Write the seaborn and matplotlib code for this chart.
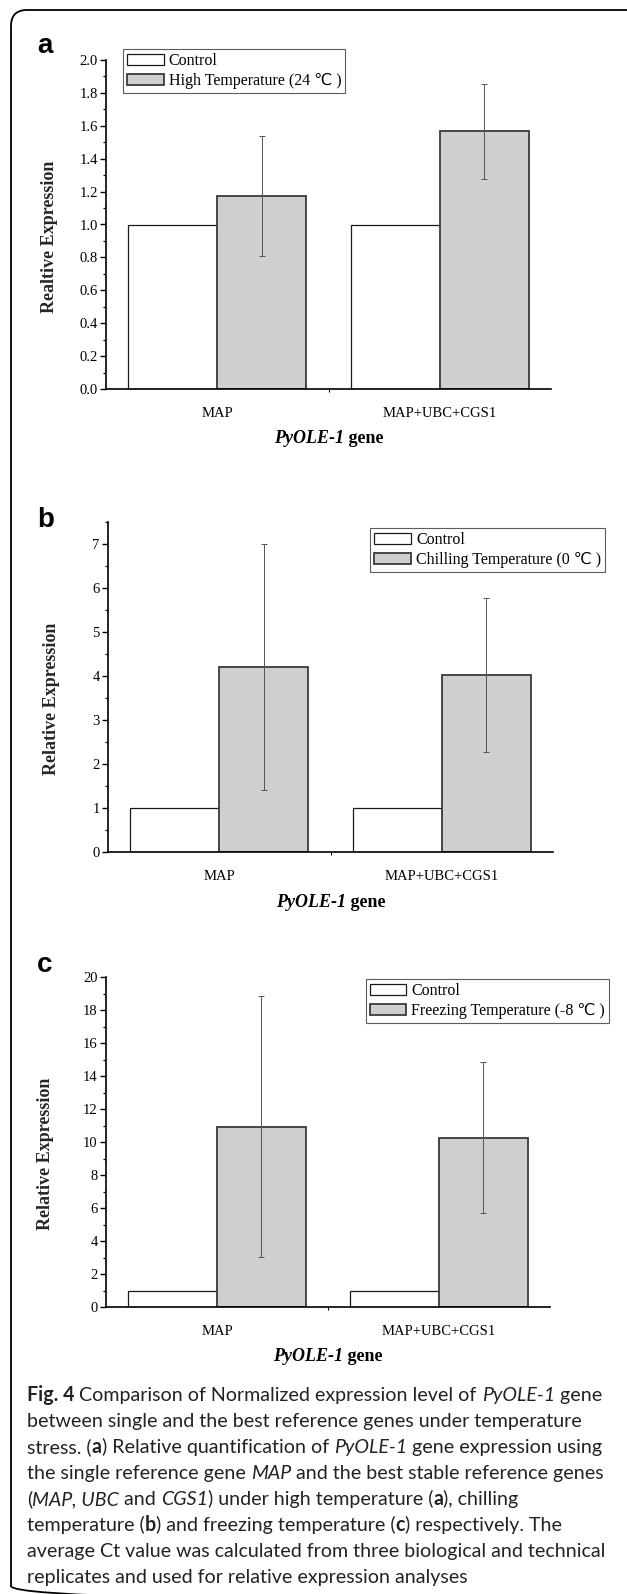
import matplotlib
matplotlib.use("Agg")
import matplotlib.pyplot as plt
import seaborn as sns
import pandas as pd
from matplotlib.patches import FancyBboxPatch
from matplotlib.ticker import MultipleLocator, FixedLocator, FormatStrFormatter

# data
genes = ["MAP", "MAP+UBC+CGS1"]
control = [1.0, 1.0]

high_temp = [1.174, 1.567]
high_temp_err = [0.364, 0.290]
chill_temp = [4.21, 4.03]
chill_temp_err = [2.80, 1.75]
freeze_temp = [10.92, 10.27]
freeze_temp_err = [7.90, 4.55]

treat_labels = ["High Temperature (24 ℃ )", "Chilling Temperature (0 ℃ )",
                "Freezing Temperature (-8 ℃ )"]
y_labels = ["Realtive Expression", "Relative Expression", "Relative Expression"]
panel_letters = ["a", "b", "c"]

W, H = 627, 1594
SERIF = ["Liberation Serif", "DejaVu Sans"]
SANS = ["Lato", "DejaVu Sans"]

sns.set_theme(style="ticks")
plt.rcParams["font.family"] = SERIF
plt.rcParams["axes.edgecolor"] = "black"
plt.rcParams["xtick.color"] = "black"
plt.rcParams["ytick.color"] = "black"
plt.rcParams["text.color"] = "black"

fig = plt.figure(figsize=(W / 100, H / 100), dpi=100)
fig.patch.set_facecolor("white")
renderer = fig.canvas.get_renderer()


def fbox(l, t, r, b):
    return [l / W, 1 - b / H, (r - l) / W, (b - t) / H]


def run_width(s, props):
    t1 = fig.text(0, 0, "X" + s + "X", **props)
    t2 = fig.text(0, 0, "XX", **props)
    w = t1.get_window_extent(renderer).width - t2.get_window_extent(renderer).width
    t1.remove()
    t2.remove()
    return w


def draw_runs(x_px, y_px, runs, align="left"):
    widths = [run_width(s, p) for s, p in runs]
    if align == "center":
        x_px -= sum(widths) / 2
    for (s, p), w in zip(runs, widths):
        fig.text(x_px / W, 1 - y_px / H, s, va="baseline", ha="left", **p)
        x_px += w


# frame around the whole figure
bg = fig.add_axes([0, 0, 1, 1], zorder=-5)
bg.set_xlim(0, W)
bg.set_ylim(H, 0)
bg.axis("off")
bg.add_patch(FancyBboxPatch((11, 10), 680, 1592, boxstyle="round,pad=0,rounding_size=16",
                            fill=False, lw=1.3, ec="black"))

panels = [
    dict(vals=high_temp, errs=high_temp_err, box=(106, 60, 551, 389), ylim=2.0,
         major=0.2, minor=0.1, fmt="%.1f", leg_loc="upper left", leg_xy=(123, 49),
         letter_y=53, xlabel_y=443, ylab_x=-0.108),
    dict(vals=chill_temp, errs=chill_temp_err, box=(108, 522, 553, 852), ylim=7.5,
         major=1, minor=0.5, fmt="%d", leg_loc="upper right", leg_xy=(605, 528),
         letter_y=527, xlabel_y=907, ylab_x=-0.108),
    dict(vals=freeze_temp, errs=freeze_temp_err, box=(106, 977, 550, 1307), ylim=20,
         major=2, minor=1, fmt="%d", leg_loc="upper right", leg_xy=(609, 979),
         letter_y=972, xlabel_y=1361, ylab_x=-0.117),
]

for i, p in enumerate(panels):
    ax = fig.add_axes(fbox(*p["box"]))
    df = pd.DataFrame({
        "gene": genes * 2,
        "group": ["Control"] * 2 + [treat_labels[i]] * 2,
        "value": control + p["vals"],
    })
    sns.barplot(data=df, x="gene", y="value", hue="group", palette=["white", "#cfcfcf"],
                width=0.8, errorbar=None, legend=False, saturation=1, ax=ax)
    for bar in ax.containers[0]:
        bar.set_edgecolor("#1a1a1a")
        bar.set_linewidth(0.9)
    for bar in ax.containers[1]:
        bar.set_edgecolor("#3a3a3a")
        bar.set_linewidth(1.3)
    xs = [b.get_x() + b.get_width() / 2 for b in ax.containers[1]]
    ax.errorbar(xs, p["vals"], yerr=p["errs"], fmt="none", ecolor="#555555",
                elinewidth=0.7, capsize=2.5, capthick=0.7, zorder=5)

    ax.set_xlim(-0.5, 1.5)
    ax.set_ylim(0, p["ylim"])
    sns.despine(ax=ax)
    ax.set_facecolor("none")
    for side in ["left", "bottom"]:
        ax.spines[side].set_linewidth(1.2)
        ax.spines[side].set_color("black")

    ax.yaxis.set_major_locator(MultipleLocator(p["major"]))
    ax.yaxis.set_minor_locator(MultipleLocator(p["minor"]))
    ax.yaxis.set_major_formatter(FormatStrFormatter(p["fmt"]))
    ax.tick_params(axis="y", which="major", length=4, width=1, direction="out",
                   labelsize=10.5, pad=2)
    ax.tick_params(axis="y", which="minor", length=2.5, width=0.9, direction="out")
    ax.xaxis.set_minor_locator(FixedLocator([0.5]))
    ax.tick_params(axis="x", which="major", length=0, pad=13, labelsize=10.5)
    ax.tick_params(axis="x", which="minor", length=2.5, width=0.8, direction="out")

    ax.set_xlabel("")
    ax.set_ylabel(y_labels[i], fontsize=13, fontweight="bold")
    ax.yaxis.set_label_coords(p["ylab_x"], 0.464)

    lx, ly = p["leg_xy"]
    leg = ax.legend(ax.containers[:2], ["Control", treat_labels[i]], loc=p["leg_loc"],
                    bbox_to_anchor=(lx / W, 1 - ly / H), bbox_transform=fig.transFigure,
                    borderaxespad=0, frameon=True, fancybox=False, fontsize=11.5,
                    handlelength=2.3, handleheight=0.75, handletextpad=0.3,
                    borderpad=0.25, labelspacing=0.25)
    leg.get_frame().set_edgecolor("#333333")
    leg.get_frame().set_linewidth(0.8)

    fig.text(37 / W, 1 - p["letter_y"] / H, panel_letters[i], fontsize=20,
             fontweight="bold", family=["Liberation Sans", "DejaVu Sans"],
             va="baseline", ha="left")

    l, t, r, b = p["box"]
    draw_runs((l + r) / 2, p["xlabel_y"],
              [("PyOLE-1", dict(fontsize=13, fontweight="bold", style="italic", family=SERIF)),
               (" gene", dict(fontsize=13, fontweight="bold", family=SERIF))],
              align="center")

# caption: font size chosen so the widest line spans the same width as in the reference
widest = "average Ct value was calculated from three biological and technical"
cap_size = 15 * 580 / run_width(widest, dict(family=SANS, fontsize=15))
reg = dict(family=SANS, fontsize=cap_size, color="#222222")
bold = dict(reg, fontweight="bold")
ital = dict(reg, style="italic")
caption = [
    [("Fig. 4", bold), (" Comparison of Normalized expression level of ", reg),
     ("PyOLE-1", ital), (" gene", reg)],
    [("between single and the best reference genes under temperature", reg)],
    [("stress. (", reg), ("a", bold), (") Relative quantification of ", reg),
     ("PyOLE-1", ital), (" gene expression using", reg)],
    [("the single reference gene ", reg), ("MAP", ital),
     (" and the best stable reference genes", reg)],
    [("(", reg), ("MAP, UBC", ital), (" and ", reg), ("CGS1", ital),
     (") under high temperature (", reg), ("a", bold), ("), chilling", reg)],
    [("temperature (", reg), ("b", bold), (") and freezing temperature (", reg),
     ("c", bold), (") respectively. The", reg)],
    [(widest, reg)],
    [("replicates and used for relative expression analyses", reg)],
]
for k, line in enumerate(caption):
    draw_runs(27, 1401 + k * 26, line)

fig.savefig("out.png", dpi=100, facecolor="white")
